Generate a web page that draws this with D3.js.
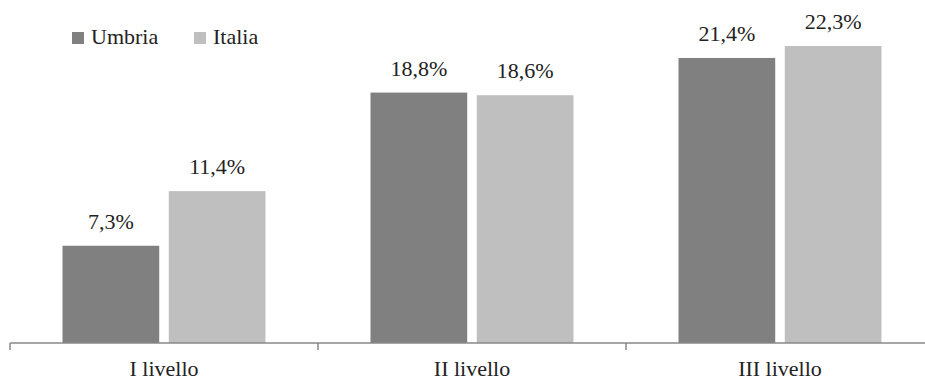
<!DOCTYPE html>
<html><head><meta charset="utf-8">
<script src="https://cdn.jsdelivr.net/npm/d3@7"></script>
<style>
html,body{margin:0;padding:0;background:#fff;}
svg{display:block;}
</style></head>
<body>
<svg id="chart" width="925" height="380"></svg>
<script>
const categories = ["I livello", "II livello", "III livello"];
const seriesNames = ["Umbria", "Italia"];
const umbria = [7.3, 18.8, 21.4];
const italia = [11.4, 18.6, 22.3];
const colors = ["#808080", "#bfbfbf"];
const FONT = '"Liberation Serif", "Times New Roman", Tinos, serif';

const data = categories.map((c, i) => ({cat: c, values: [umbria[i], italia[i]]}));

const svg = d3.select("#chart");
const axisY = 343;
const y = d3.scaleLinear().domain([0, 25]).range([axisY, 10]);
const x0 = d3.scaleBand().domain(categories).range([10, 934]).padding(0);
const groupOffset = 52.5, groupWidth = 203;
const x1 = d3.scaleBand().domain(seriesNames).range([0, groupWidth]).paddingInner(0.09);

const fmt = v => v.toFixed(1).replace(".", ",") + "%";

const groups = svg.append("g").selectAll("g").data(data).join("g")
  .attr("transform", d => `translate(${x0(d.cat) + groupOffset},0)`);

groups.selectAll("rect").data(d => d.values.map((v, j) => ({v, s: seriesNames[j], j})))
  .join("rect")
  .attr("x", d => x1(d.s))
  .attr("y", d => y(d.v))
  .attr("width", x1.bandwidth())
  .attr("height", d => axisY - y(d.v))
  .attr("fill", d => colors[d.j]);

groups.selectAll("text").data(d => d.values.map((v, j) => ({v, s: seriesNames[j], j})))
  .join("text")
  .attr("x", d => x1(d.s) + x1.bandwidth() / 2)
  .attr("y", d => y(d.v) - 17)
  .attr("text-anchor", "middle")
  .style("font-family", FONT)
  .style("font-size", "22px")
  .attr("fill", "#222")
  .text(d => fmt(d.v));

// axis
const ax = svg.append("g");
ax.append("line").attr("x1", 10).attr("x2", 934).attr("y1", axisY).attr("y2", axisY)
  .attr("stroke", "#888").attr("stroke-width", 1.5);
const bounds = categories.map(c => x0(c)).concat([x0.range()[1]]);
ax.selectAll("line.tick").data(bounds).join("line").attr("class", "tick")
  .attr("x1", d => d).attr("x2", d => d).attr("y1", axisY).attr("y2", axisY + 7)
  .attr("stroke", "#888").attr("stroke-width", 1.5);
ax.selectAll("text").data(categories).join("text")
  .attr("x", d => x0(d) + x0.bandwidth() / 2)
  .attr("y", 376)
  .attr("text-anchor", "middle")
  .style("font-family", FONT)
  .style("font-size", "22px")
  .attr("fill", "#222")
  .text(d => d);

// legend
const legendX = [72, 194];
const lg = svg.append("g").selectAll("g").data(seriesNames).join("g")
  .attr("transform", (d, i) => `translate(${legendX[i]},32)`);
lg.append("rect").attr("width", 12).attr("height", 12).attr("fill", (d, i) => colors[i]);
lg.append("text").attr("x", 19).attr("y", 12)
  .style("font-family", FONT).style("font-size", "22px")
  .attr("fill", "#222").text(d => d);
</script>
</body></html>
